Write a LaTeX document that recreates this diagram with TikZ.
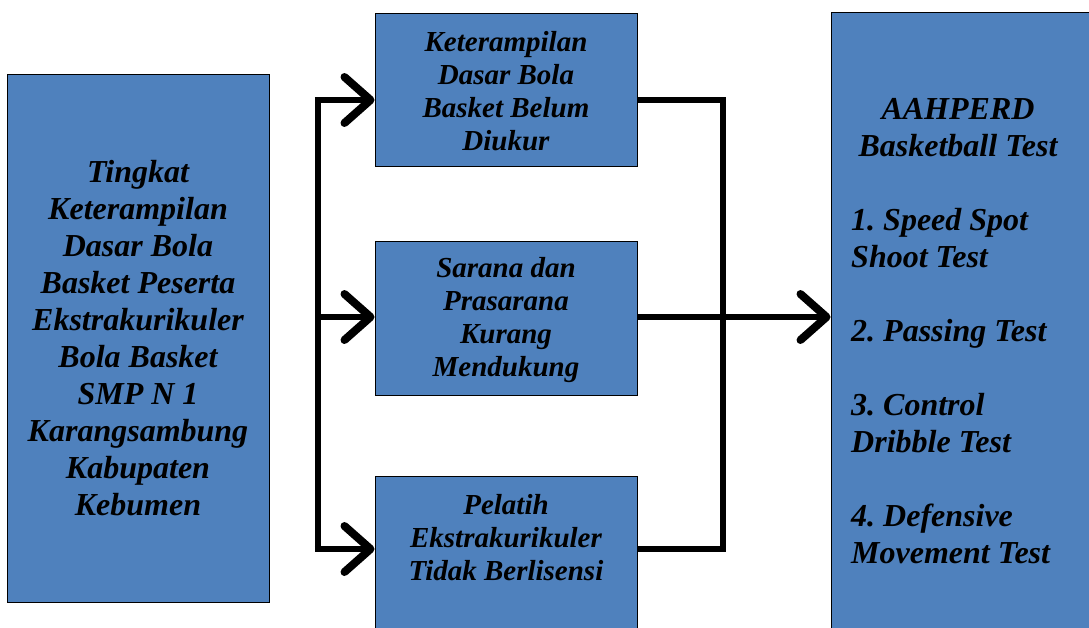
\documentclass[tikz,border=0pt]{standalone}
\usepackage{fontspec}
\setmainfont{Liberation Serif}
\usetikzlibrary{arrows.meta}
\definecolor{boxblue}{HTML}{4F81BD}
\frenchspacing
\tikzset{
  box/.style={draw=black, line width=1pt, fill=boxblue, inner sep=0pt},
  bigtxt/.style={font=\fontsize{32}{37}\selectfont\bfseries\itshape, align=center, inner sep=0pt},
  midtxt/.style={font=\fontsize{29}{33}\selectfont\bfseries\itshape, align=center, inner sep=0pt},
  conn/.style={line width=6.5pt, line join=miter},
  arr/.style={conn, -{Straight Barb[length=26pt, width=46pt, line width=8pt, line cap=round, line join=round]}}
}
\begin{document}
\begin{tikzpicture}[x=1pt, y=-1pt]
\useasboundingbox (0,0) rectangle (1089,627);
% boxes
\node[box, minimum width=262pt, minimum height=528pt] (L) at (138,338) {};
\node[box, minimum width=262pt, minimum height=153pt] (b1) at (506,89.5) {};
\node[box, minimum width=262pt, minimum height=154pt] (b2) at (506,318) {};
\node[box, minimum width=262pt, minimum height=170pt] (b3) at (506,561) {};
\node[box, minimum width=300pt, minimum height=640pt] (R) at (981,332) {};
% texts
\node[bigtxt] (Lt) at (138,338) {Tingkat\\Keterampilan\\Dasar Bola\\Basket Peserta\\Ekstrakurikuler\\Bola Basket\\SMP N 1\\Karangsambung\\Kabupaten\\Kebumen};
\node[midtxt] (t1) at (506,91) {Keterampilan\\Dasar Bola\\Basket Belum\\Diukur};
\node[midtxt] (t2) at (506,320) {Sarana dan\\Prasarana\\Kurang\\Mendukung};
\node[midtxt] (t3) at (506,538) {Pelatih\\Ekstrakurikuler\\Tidak Berlisensi};
\node[bigtxt] (Rh) at (958,128) {AAHPERD\\Basketball Test};
\node[bigtxt, align=left, anchor=west] (Rl) at (851,386) {1. Speed Spot\\Shoot Test\\[37pt]2. Passing Test\\[37pt]3. Control\\Dribble Test\\[37pt]4. Defensive\\Movement Test};
% left trunk
\coordinate (tTop) at (318,100);
\coordinate (tMid) at (318,317);
\coordinate (tBot) at (318,549);
\draw[conn] (tTop) -- (tBot);
\draw[arr] ([xshift=-3.25pt]tTop) -- (tTop -| b1.west);
\draw[arr] (tMid) -- (tMid -| b2.west);
\draw[arr] ([xshift=-3.25pt]tBot) -- (tBot -| b3.west);
% right collector
\coordinate (cTop) at (723,100);
\coordinate (cMid) at (723,317);
\coordinate (cBot) at (723,549);
\draw[conn] (cTop -| b1.east) -- (cTop) -- (cBot) -- (cBot -| b3.east);
\draw[arr] (cMid -| b2.east) -- (cMid -| R.west);
\end{tikzpicture}
\end{document}
